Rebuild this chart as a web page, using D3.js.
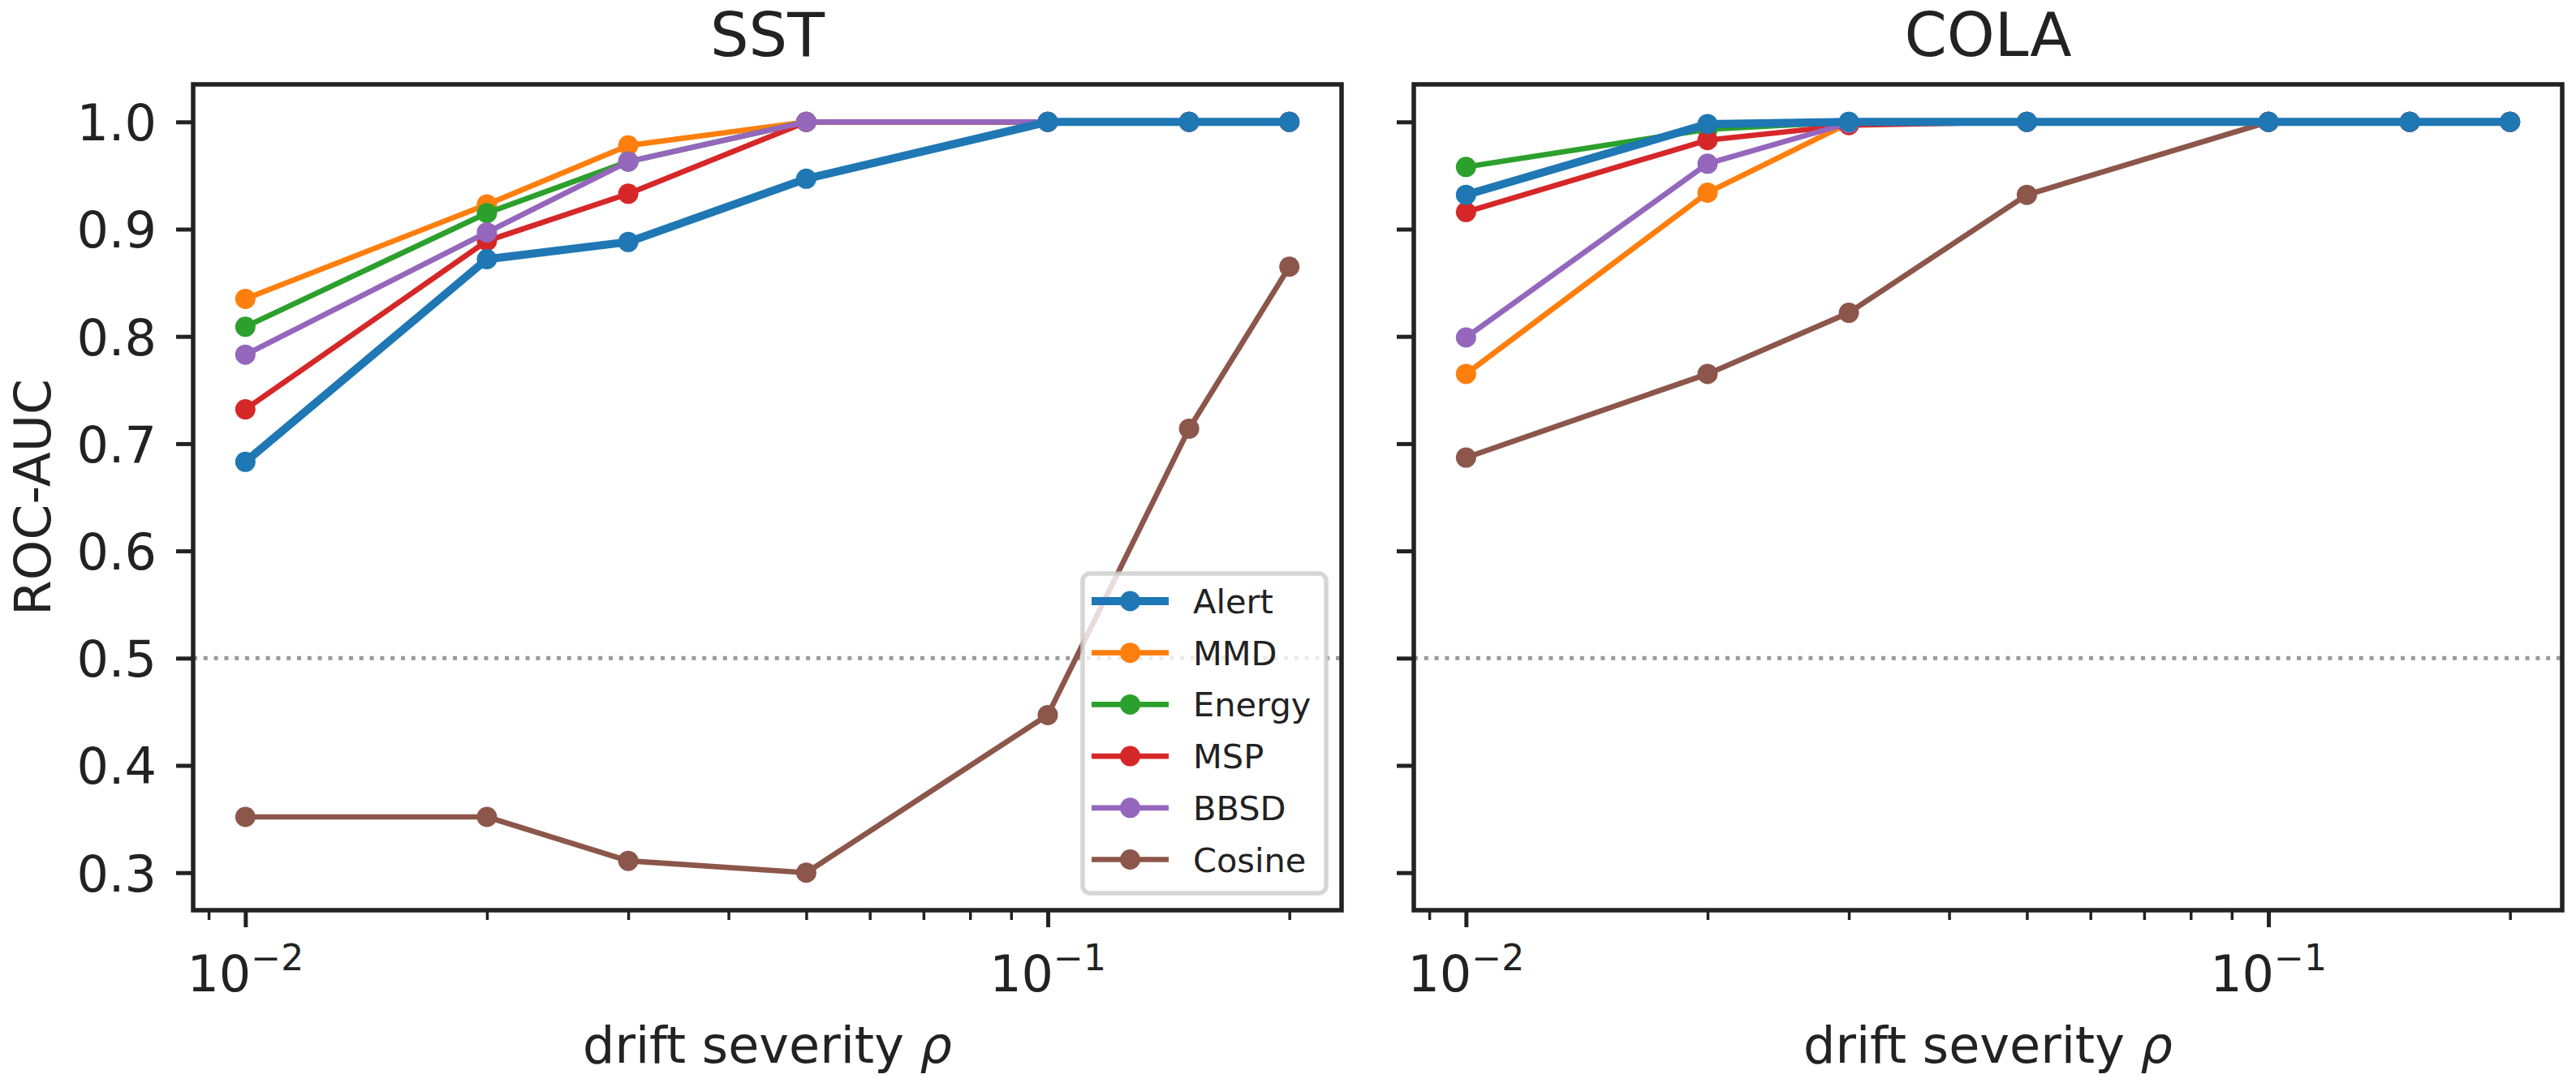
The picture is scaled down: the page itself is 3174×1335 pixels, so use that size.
<!DOCTYPE html>
<html>
<head>
<meta charset="utf-8">
<script src="https://cdn.jsdelivr.net/npm/d3@7"></script>
<style>
  body { margin: 0; background: #fff; }
  svg { display: block; font-family: "DejaVu Sans", sans-serif; }
</style>
</head>
<body>
<div id="chart"></div>
<script>
// drift severity values (x)
var rho = [0.01, 0.02, 0.03, 0.05, 0.1, 0.15, 0.2];

var methods = ["Alert", "MMD", "Energy", "MSP", "BBSD", "Cosine"];
var colors  = ["#1f77b4", "#ff7f0e", "#2ca02c", "#d62728", "#9467bd", "#8c564b"];

// ROC-AUC, SST panel
var sstAlert  = [0.683, 0.872, 0.888, 0.947, 1.000, 1.000, 1.000];
var sstMMD    = [0.835, 0.923, 0.978, 1.000, 1.000, 1.000, 1.000];
var sstEnergy = [0.809, 0.915, 0.963, 1.000, 1.000, 1.000, 1.000];
var sstMSP    = [0.732, 0.889, 0.933, 1.000, 1.000, 1.000, 1.000];
var sstBBSD   = [0.783, 0.897, 0.963, 1.000, 1.000, 1.000, 1.000];
var sstCosine = [0.352, 0.352, 0.311, 0.300, 0.447, 0.714, 0.865];

// ROC-AUC, COLA panel
var colaAlert  = [0.932, 0.998, 1.000, 1.000, 1.000, 1.000, 1.000];
var colaMMD    = [0.765, 0.934, 0.999, 1.000, 1.000, 1.000, 1.000];
var colaEnergy = [0.958, 0.993, 1.000, 1.000, 1.000, 1.000, 1.000];
var colaMSP    = [0.916, 0.983, 0.997, 1.000, 1.000, 1.000, 1.000];
var colaBBSD   = [0.799, 0.961, 0.999, 1.000, 1.000, 1.000, 1.000];
var colaCosine = [0.687, 0.765, 0.822, 0.932, 1.000, 1.000, 1.000];

var yTicks = [0.3, 0.4, 0.5, 0.6, 0.7, 0.8, 0.9, 1.0];
var xMajor = [0.01, 0.1];
var xMinor = [0.009, 0.02, 0.03, 0.04, 0.05, 0.06, 0.07, 0.08, 0.09, 0.2];
var chance = 0.5;

(function () {
    var panels = [
        {title: "SST",  series: [sstAlert, sstMMD, sstEnergy, sstMSP, sstBBSD, sstCosine], left: 238, legend: true},
        {title: "COLA", series: [colaAlert, colaMMD, colaEnergy, colaMSP, colaBBSD, colaCosine], left: 1742, legend: false}
    ];

    var W = 3174, H = 1335,
        pw = 1415, yTop = 104, yBot = 1122,
        ink = "#222222";

    var svg = d3.select("#chart").append("svg")
        .attr("width", W)
        .attr("height", H);

    // matplotlib-like 5% margins
    var lx0 = Math.log10(d3.min(rho)), lx1 = Math.log10(d3.max(rho)),
        mx = (lx1 - lx0) * 0.05;
    var y = d3.scaleLinear()
        .domain([0.3 - 0.035, 1.0 + 0.035])
        .range([yBot, yTop]);

    var line = d3.line();

    panels.forEach(function (p, pi) {
        var x = d3.scaleLog()
            .domain([Math.pow(10, lx0 - mx), Math.pow(10, lx1 + mx)])
            .range([p.left, p.left + pw]);

        var g = svg.append("g");

        // chance level
        g.append("line")
            .attr("x1", p.left).attr("x2", p.left + pw)
            .attr("y1", y(chance)).attr("y2", y(chance))
            .attr("stroke", "#999999")
            .attr("stroke-width", 5)
            .attr("stroke-dasharray", "5,7.8");

        // draw Alert last so it sits on top
        var order = [1, 2, 3, 4, 5, 0];
        order.forEach(function (k) {
            var vals = p.series[k];
            var pts = rho.map(function (r, i) { return [x(r), y(vals[i])]; });
            var s = g.append("g");
            s.append("path")
                .attr("d", line(pts))
                .attr("fill", "none")
                .attr("stroke", colors[k])
                .attr("stroke-width", k === 0 ? 10 : 6.7)
                .attr("stroke-linejoin", "round");
            s.selectAll("circle")
                .data(pts)
                .enter().append("circle")
                .attr("cx", function (d) { return d[0]; })
                .attr("cy", function (d) { return d[1]; })
                .attr("r", 12.5)
                .attr("fill", colors[k]);
        });

        // y axis
        var ya = g.append("g")
            .attr("transform", "translate(" + p.left + ",0)")
            .call(d3.axisLeft(y).tickValues(yTicks).tickSize(21).tickPadding(24)
                .tickFormat(pi === 0 ? d3.format(".1f") : ""));
        ya.select(".domain").remove();
        ya.selectAll(".tick line").attr("stroke", ink).attr("stroke-width", 5);
        ya.selectAll(".tick text")
            .attr("fill", ink)
            .attr("dy", "0.36em")
            .style("font-size", "62px")
            .style("font-family", "DejaVu Sans");

        // x axis, minor then major
        var xm = g.append("g")
            .attr("transform", "translate(0," + yBot + ")")
            .call(d3.axisBottom(x).tickValues(xMinor).tickSize(12).tickFormat(""));
        xm.select(".domain").remove();
        xm.selectAll(".tick line").attr("stroke", ink).attr("stroke-width", 3.5);

        var xa = g.append("g")
            .attr("transform", "translate(0," + yBot + ")")
            .call(d3.axisBottom(x).tickValues(xMajor).tickSize(21).tickFormat(""));
        xa.select(".domain").remove();
        xa.selectAll(".tick line").attr("stroke", ink).attr("stroke-width", 5);

        xMajor.forEach(function (v) {
            var t = g.append("text")
                .attr("x", x(v))
                .attr("y", 1222)
                .attr("text-anchor", "middle")
                .attr("fill", ink)
                .style("font-size", "62px");
            t.append("tspan").text("10");
            t.append("tspan")
                .attr("dy", -26)
                .style("font-size", "44px")
                .text("\u2212" + Math.round(-Math.log10(v)));
        });

        // frame
        g.append("rect")
            .attr("x", p.left).attr("y", yTop)
            .attr("width", pw).attr("height", yBot - yTop)
            .attr("fill", "none")
            .attr("stroke", ink)
            .attr("stroke-width", 5.5);

        // title
        g.append("text")
            .attr("x", p.left + pw / 2)
            .attr("y", 69)
            .attr("text-anchor", "middle")
            .attr("fill", ink)
            .style("font-size", "75px")
            .text(p.title);

        // x label
        var xl = g.append("text")
            .attr("x", p.left + pw / 2)
            .attr("y", 1310)
            .attr("text-anchor", "middle")
            .attr("fill", ink)
            .style("font-size", "62px");
        xl.append("tspan").text("drift severity ");
        xl.append("tspan").style("font-style", "italic").text("\u03c1");

        if (p.legend) {
            var lg = g.append("g");
            lg.append("rect")
                .attr("x", 1334).attr("y", 707)
                .attr("width", 300).attr("height", 394)
                .attr("rx", 9)
                .attr("fill", "rgba(255,255,255,0.8)")
                .attr("stroke", "rgba(204,204,204,0.8)")
                .attr("stroke-width", 5.5);
            methods.forEach(function (m, k) {
                var cy = 741 + k * 63.7;
                lg.append("line")
                    .attr("x1", 1345).attr("x2", 1440)
                    .attr("y1", cy).attr("y2", cy)
                    .attr("stroke", colors[k])
                    .attr("stroke-width", k === 0 ? 10 : 6.7);
                lg.append("circle")
                    .attr("cx", 1392.5).attr("cy", cy)
                    .attr("r", 12.5)
                    .attr("fill", colors[k]);
                lg.append("text")
                    .attr("x", 1470)
                    .attr("y", cy + 15)
                    .attr("fill", ink)
                    .style("font-size", "41.5px")
                    .text(m);
            });
        }
    });

    // shared y label
    svg.append("text")
        .attr("transform", "translate(62," + ((yTop + yBot) / 2) + ") rotate(-90)")
        .attr("text-anchor", "middle")
        .attr("fill", ink)
        .style("font-size", "63px")
        .text("ROC-AUC");
})();
</script>
</body>
</html>
